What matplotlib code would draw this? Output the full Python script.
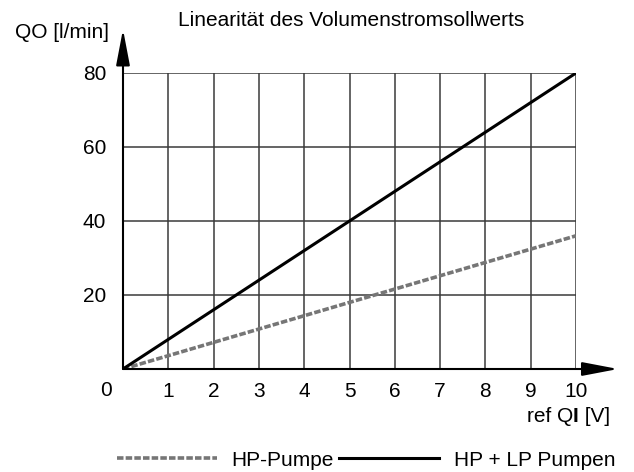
import matplotlib
matplotlib.use("Agg")
from matplotlib import pyplot as plt
from matplotlib.transforms import offset_copy

plt.rcParams['font.family'] = ['Liberation Sans', 'DejaVu Sans']

# data
ref_qi = [0, 10]                 # V
hp_pumpe = [0, 36]               # l/min
hp_lp_pumpen = [0, 80]           # l/min
x_ticks = [1, 2, 3, 4, 5, 6, 7, 8, 9, 10]
y_ticks = [20, 40, 60, 80]

W, H = 634, 472
fig = plt.figure(figsize=(W / 100, H / 100), dpi=100)
# axes box in pixels: x 123..576, y 73..369 (from top)
ax = fig.add_axes([123 / W, 1 - 369 / H, (576 - 123) / W, (369 - 73) / H])
ax.set_xlim(0, 10)
ax.set_ylim(0, 80)

for s in ax.spines.values():
    s.set_visible(False)

# grid
for x in x_ticks:
    ax.plot([x, x], [0, 80], color='#3a3a3a', lw=1.1, zorder=1)
for y in y_ticks:
    ax.plot([0, 10], [y, y], color='#3a3a3a', lw=1.1, zorder=1)

l1, = ax.plot(ref_qi, hp_pumpe, color='#767676', lw=2.6, dashes=(1.8, 0.6),
              label='HP-Pumpe', zorder=3)
l2, = ax.plot(ref_qi, hp_lp_pumpen, color='black', lw=2.2,
              label='HP + LP Pumpen', zorder=4)

# axes with arrows
arrow = dict(arrowstyle='-|>,head_length=2.2,head_width=0.42', lw=1.5,
             color='black', shrinkA=0, shrinkB=0)
ax.annotate('', xy=(0, 91.8), xytext=(0, 0), arrowprops=arrow,
            annotation_clip=False, zorder=5)
ax.annotate('', xy=(10.93, 0), xytext=(0, 0), arrowprops=arrow,
            annotation_clip=False, zorder=5)

ax.set_xticks(x_ticks)
ax.set_xticklabels([str(v) for v in x_ticks])
ax.set_yticks(y_ticks)
ax.set_yticklabels([str(v) for v in y_ticks])
ax.tick_params(length=0, labelsize=15, colors='black')
ax.tick_params(axis='x', pad=9.5)
ax.tick_params(axis='y', pad=12)
fig.text(106 / W, 1 - 390 / H, '0', fontsize=15, ha='center', va='center')

fig.text(351 / W, 1 - 20 / H, 'Linearität des Volumenstromsollwerts',
         fontsize=15, ha='center', va='center')
fig.text(62 / W, 1 - 33 / H, 'QO [l/min]', fontsize=15, ha='center', va='center')

# x axis label with bold "I"
r = fig.canvas.get_renderer()
t1 = fig.text(610 / W, 1 - 416 / H, ' [V]', fontsize=15, ha='right', va='center')
w1 = t1.get_window_extent(r).width
t2 = fig.text(610 / W, 1 - 416 / H, 'I', fontsize=15, ha='right', va='center',
              fontweight='bold',
              transform=offset_copy(fig.transFigure, fig=fig, x=-w1, y=0, units='dots'))
w2 = t2.get_window_extent(r).width
fig.text(610 / W, 1 - 416 / H, 'ref Q', fontsize=15, ha='right', va='center',
         transform=offset_copy(fig.transFigure, fig=fig, x=-w1 - w2, y=0, units='dots'))

fig.legend(handles=[l1, l2], loc='center', bbox_to_anchor=(366 / W, 1 - 460 / H),
           ncol=2, frameon=False, fontsize=15, handlelength=4.8, handletextpad=0.7,
           columnspacing=0.25, borderpad=0)

fig.savefig('out.png', dpi=100)
